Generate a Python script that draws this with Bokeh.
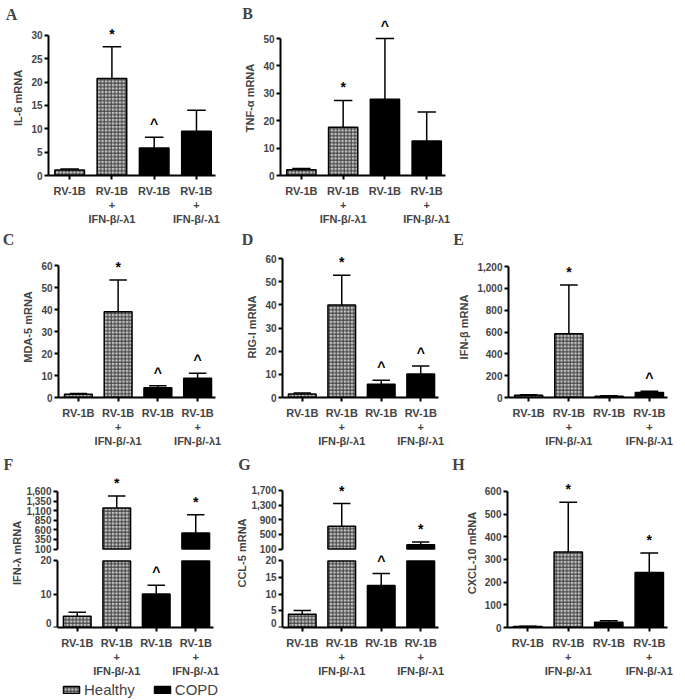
import numpy as np
from bokeh.plotting import figure
from bokeh.layouts import row, column
from bokeh.models import (Range1d, FixedTicker, NumeralTickFormatter, Label,
                          Legend, LegendItem, LinearAxis)
from bokeh.embed import file_html
from bokeh.resources import INLINE
from bokeh.core.properties import value

# ---------------- data ----------------
groups = ["Healthy", "Healthy", "COPD", "COPD"]
bar_pos = [1, 2, 3, 4]
x_labels = ["RV-1B", "RV-1B\n+\nIFN-β/-λ1", "RV-1B", "RV-1B\n+\nIFN-β/-λ1"]

il6_mean = [1.2, 20.8, 5.9, 9.5]
il6_sem = [0.2, 6.8, 2.3, 4.5]
il6_sig = ["", "*", "^", ""]
il6_ticks = [0, 5, 10, 15, 20, 25, 30]

tnfa_mean = [2.1, 17.6, 27.8, 12.6]
tnfa_sem = [0.5, 9.8, 22.2, 10.6]
tnfa_sig = ["", "*", "^", ""]
tnfa_ticks = [0, 10, 20, 30, 40, 50]

mda5_mean = [1.5, 39.0, 4.4, 8.8]
mda5_sem = [0.3, 14.4, 0.9, 2.2]
mda5_sig = ["", "*", "^", "^"]
mda5_ticks = [0, 10, 20, 30, 40, 50, 60]

rigi_mean = [1.5, 40.0, 5.7, 10.2]
rigi_sem = [0.4, 12.8, 1.7, 3.4]
rigi_sig = ["", "*", "^", "^"]
rigi_ticks = [0, 10, 20, 30, 40, 50, 60]

ifnb_mean = [20, 585, 12, 45]
ifnb_sem = [5, 445, 3, 13]
ifnb_sig = ["", "*", "", "^"]
ifnb_ticks = [0, 200, 400, 600, 800, 1000, 1200]

ifnl_mean = [3.4, 1170, 10.1, 520]
ifnl_sem = [1.2, 310, 2.6, 470]
ifnl_sig = ["", "*", "^", "*"]
ifnl_ticks_low = [0, 10, 20]
ifnl_ticks_high = [100, 350, 600, 850, 1100, 1350, 1600]

ccl5_mean = [4.0, 720, 12.6, 215]
ccl5_sem = [1.1, 620, 3.6, 75]
ccl5_sig = ["", "*", "^", "*"]
ccl5_ticks_low = [0, 5, 10, 15, 20]
ccl5_ticks_high = [100, 500, 900, 1300, 1700]

cxcl10_mean = [4, 333, 23, 242]
cxcl10_sem = [1.5, 219, 7, 86]
cxcl10_sig = ["", "*", "", "*"]
cxcl10_ticks = [0, 100, 200, 300, 400, 500, 600]

legend_labels = ["Healthy", "COPD"]

# ---------------- styles ----------------
FONT = "Liberation Sans"
HEALTHY = dict(fill_color="#c4c4c4", hatch_pattern="cross", hatch_color="#3c3c3c",
               hatch_scale=3.5, hatch_weight=1.0, line_color="black", line_width=1.5)
COPD = dict(fill_color="black", line_color="black", line_width=1.5)
XR = (0.5, 4.45)


def style_axis(ax):
    ax.axis_line_width = 2
    ax.major_tick_line_width = 2
    ax.major_tick_out = 4
    ax.major_tick_in = 0
    ax.minor_tick_out = 0
    ax.minor_tick_in = 0
    ax.major_label_text_font = FONT
    ax.major_label_text_font_style = "bold"
    ax.major_label_text_font_size = "10px"
    ax.major_label_standoff = 2
    ax.axis_label_text_font = FONT
    ax.axis_label_text_font_style = "bold"
    ax.axis_label_text_font_size = "11px"
    ax.axis_label_standoff = 4


def base_fig(cell, frame, yr, xr=XR, extra=None):
    cl, ct, cr, cb = cell
    fl, ft, fr, fb = frame
    kw = dict(extra_y_ranges={"upper": Range1d(*extra)}) if extra else {}
    p = figure(width=cr - cl, height=cb - ct, x_range=Range1d(*xr), y_range=Range1d(*yr),
               output_backend="svg", toolbar_location=None, title=None,
               y_axis_location=None if extra else "left",
               min_border_left=fl - cl, min_border_right=cr - fr,
               min_border_top=ft - ct, min_border_bottom=cb - fb, **kw)
    p.grid.visible = False
    p.outline_line_color = None
    xa = p.xaxis[0]
    xa.ticker = FixedTicker(ticks=bar_pos)
    xa.major_label_overrides = {k: v for k, v in zip(bar_pos, x_labels)}
    xa.bounds = XR
    style_axis(xa)
    xa.major_label_text_font_size = "11px"
    xa.major_label_standoff = 5
    return p


def draw_bars(p, mean, sem, sig, bar_mask, err_mask, cap=None, bottom=0, rng="default"):
    x = np.array(bar_pos, dtype=float)
    m = np.array(mean, dtype=float)
    e = np.array(sem, dtype=float)
    top = m if cap is None else np.minimum(m, cap)
    hm = np.array([g == "Healthy" for g in groups])
    p.vbar(x=x[hm & bar_mask], top=top[hm & bar_mask], bottom=bottom, width=0.7,
           y_range_name=rng, **HEALTHY)
    p.vbar(x=x[~hm & bar_mask], top=top[~hm & bar_mask], bottom=bottom, width=0.7,
           y_range_name=rng, **COPD)
    xe, me, ee = x[err_mask], m[err_mask], e[err_mask]
    se = [s for s, k in zip(sig, err_mask) if k]
    p.segment(x0=xe, y0=me, x1=xe, y1=me + ee, line_color="black", line_width=1.5,
              y_range_name=rng)
    p.segment(x0=xe - 0.22, y0=me + ee, x1=xe + 0.22, y1=me + ee, line_color="black",
              line_width=1.5, y_range_name=rng)
    p.text(x=xe, y=me + ee, text=se, text_align="center", text_baseline="middle",
           y_offset=-13, text_font=value(FONT), text_font_style="bold",
           text_font_size="14px", text_color="black", y_range_name=rng)


def add_letter(p, frame, letter, letter_xy):
    fl, ft, fr, fb = frame
    lx, ly = letter_xy
    p.add_layout(Label(x=lx - fl, y=ft - ly, x_units="screen", y_units="screen",
                       text=letter, text_font="Liberation Serif", text_font_style="bold",
                       text_font_size="16px", text_align="center", text_baseline="middle"),
                 "above")


def panel(cell, frame, yr, ticks, mean, sem, sig, ylabel, letter, letter_xy):
    p = base_fig(cell, frame, yr)
    allm = np.ones(len(mean), bool)
    draw_bars(p, mean, sem, sig, allm, allm)
    ya = p.yaxis[0]
    ya.ticker = FixedTicker(ticks=ticks)
    ya.formatter = NumeralTickFormatter(format="0,0")
    ya.bounds = (ticks[0], ticks[-1])
    ya.axis_label = ylabel
    style_axis(ya)
    add_letter(p, frame, letter, letter_xy)
    return p


def broken_panel(cell, frame, axis_px, yr_low, yr_high, ticks_low, ticks_high,
                 mean, sem, sig, ylabel, letter, letter_xy):
    # frame reaches the cell's left edge so the fixed-location axes are drawn inside it
    fl, ft, fr, fb = frame
    ppx = (fr - axis_px) / (XR[1] - XR[0])
    xr = (XR[0] - (axis_px - fl) / ppx, XR[1])
    p = base_fig(cell, frame, yr_low, xr=xr, extra=yr_high)
    m = np.array(mean, dtype=float)
    e = np.array(sem, dtype=float)
    cap = ticks_low[-1]
    brk = ticks_high[0]
    allm = np.ones(len(m), bool)
    draw_bars(p, mean, sem, sig, allm, m + e <= cap, cap=cap)
    draw_bars(p, mean, sem, sig, m > brk, m > brk, bottom=brk, rng="upper")
    ax_hi = LinearAxis(y_range_name="upper", ticker=FixedTicker(ticks=ticks_high),
                       formatter=NumeralTickFormatter(format="0,0"),
                       bounds=(ticks_high[0], ticks_high[-1]), fixed_location=XR[0])
    ax_lo = LinearAxis(ticker=FixedTicker(ticks=ticks_low),
                       formatter=NumeralTickFormatter(format="0,0"),
                       bounds=(ticks_low[0], ticks_low[-1]), fixed_location=XR[0])
    # keep the bottom "0" label inside the frame (lifted half a line)
    ax_lo.major_label_overrides = {ticks_low[0]: "%d\n" % ticks_low[0]}
    ax_lab = LinearAxis(ticker=FixedTicker(ticks=[]), fixed_location=XR[0],
                        axis_label=ylabel)
    for ax in (ax_hi, ax_lo, ax_lab):
        style_axis(ax)
        p.add_layout(ax, "left")
    ax_lo.major_label_text_line_height = 0.8
    ax_lab.axis_line_color = None
    ax_lab.axis_label_standoff = 35
    add_letter(p, frame, letter, letter_xy)
    return p


pA = panel((0, 0, 240, 230), (48, 20, 215, 175), (0, 33.2), il6_ticks,
           il6_mean, il6_sem, il6_sig, "IL-6 mRNA", "A", (11, 14))
pB = panel((240, 0, 460, 230), (280, 20, 445, 175), (0, 56.6), tnfa_ticks,
           tnfa_mean, tnfa_sem, tnfa_sig, "TNF-α mRNA", "B", (247, 13))

pC = panel((0, 230, 232, 456), (58, 256, 215, 397), (0, 64.1), mda5_ticks,
           mda5_mean, mda5_sem, mda5_sig, "MDA-5 mRNA", "C", (8, 239))
pD = panel((232, 230, 452, 456), (282, 256, 438, 397), (0, 60.9), rigi_ticks,
           rigi_mean, rigi_sem, rigi_sig, "RIG-I mRNA", "D", (247, 239))
pE = panel((452, 230, 685, 456), (508, 256, 667, 397), (0, 1292), ifnb_ticks,
           ifnb_mean, ifnb_sem, ifnb_sig, "IFN-β mRNA", "E", (458, 239))

pF = broken_panel((0, 456, 232, 680), (0, 478, 213, 628), 57, (0, 44.78), (-1943, 1936),
                  ifnl_ticks_low, ifnl_ticks_high, ifnl_mean, ifnl_sem, ifnl_sig,
                  "IFN-λ mRNA", "F", (8, 464))
pG = broken_panel((232, 456, 452, 680), (232, 478, 438, 628), 282, (0, 44.78), (-2042, 2025),
                  ccl5_ticks_low, ccl5_ticks_high, ccl5_mean, ccl5_sem, ccl5_sig,
                  "CCL-5 mRNA", "G", (244, 464))
pH = panel((452, 456, 685, 680), (507, 478, 667, 628), (0, 657), cxcl10_ticks,
           cxcl10_mean, cxcl10_sem, cxcl10_sig, "CXCL-10 mRNA", "H", (458, 464))

# legend strip
pL = figure(width=320, height=18, x_range=Range1d(0, 1), y_range=Range1d(0, 1),
            output_backend="svg", toolbar_location=None, title=None,
            x_axis_location=None, y_axis_location=None, min_border=0)
pL.grid.visible = False
pL.outline_line_color = None
lh = pL.vbar(x=[np.nan], top=[np.nan], width=0.5, **HEALTHY)
lc = pL.vbar(x=[np.nan], top=[np.nan], width=0.5, **COPD)
leg = Legend(items=[LegendItem(label=legend_labels[0], renderers=[lh]),
                    LegendItem(label=legend_labels[1], renderers=[lc])],
             orientation="horizontal", location=(61, 0),
             glyph_width=20, glyph_height=9, label_text_font=FONT,
             label_text_font_size="15px", spacing=17, padding=0, margin=0,
             border_line_color=None, background_fill_alpha=0, label_standoff=3,
             label_height=14)
pL.add_layout(leg)

layout = column(
    row(pA, pB),
    row(pC, pD, pE),
    row(pF, pG, pH),
    pL,
)

open("out.html", "w").write(file_html(layout, INLINE))
